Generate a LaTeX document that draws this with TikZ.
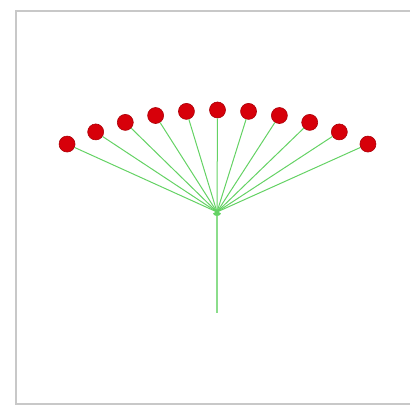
\documentclass[tikz,border=0pt]{standalone}
\usetikzlibrary{calc}
\definecolor{ramka}{RGB}{200,200,200}
\definecolor{kwiat}{RGB}{215,0,10}
\definecolor{lodyga}{RGB}{100,210,100}
\tikzset{
  kropka/.style={circle, fill=kwiat, draw=kwiat!80!black, line width=0.6pt, minimum size=16pt, inner sep=0pt},
  pret/.style={lodyga, line width=1pt}
}
\begin{document}
\begin{tikzpicture}[x=1pt, y=1pt]
        \useasboundingbox (0,0) rectangle (410,406);
        \clip (0,0) rectangle (410,406);
        % Ramka
        \draw[ramka, line width=1.5pt] (16,2) rectangle (420,395);

        % Łodyga
        \coordinate (srodek) at (217,194);
        \coordinate (dol) at (217,93);
        \draw[pret, lodyga!75!white, line width=1.3pt] (srodek) -- (dol);

        % Baldach
        \foreach \i in {-5,...,5} {
            \node[kropka] (k\i) at ($(217.5,-53.5)+({90-5.1*\i}:349.5)$) {};
            \draw[pret, shorten <=-4pt] (srodek) -- (k\i);
        }
    \end{tikzpicture}
\end{document}
